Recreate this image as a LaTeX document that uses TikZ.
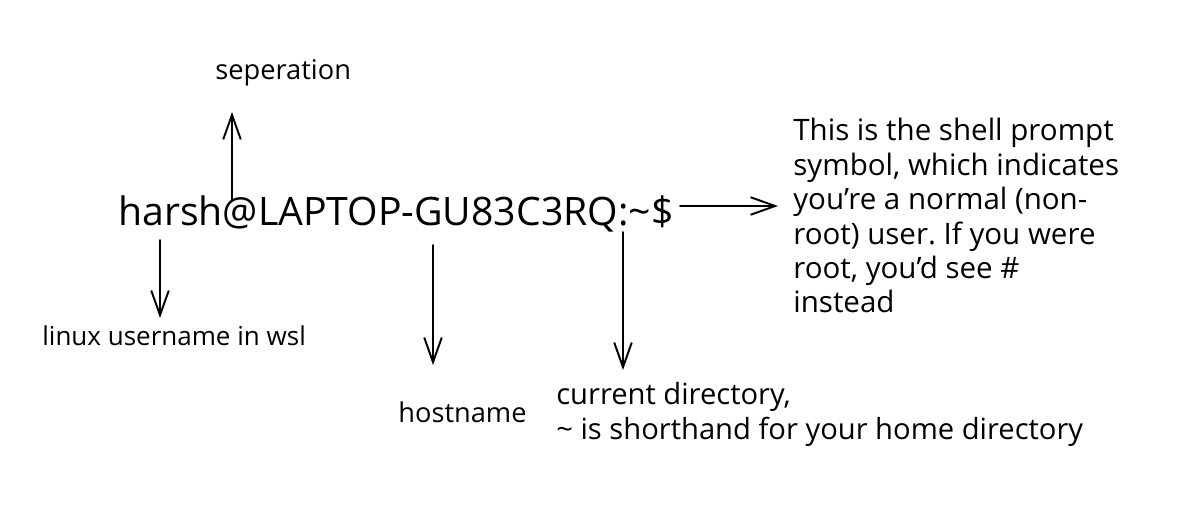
\documentclass[tikz,border=0pt]{standalone}
\usepackage{fontspec}
\setmainfont{Open Sans}
\usetikzlibrary{arrows.meta,positioning}
\frenchspacing

\begin{document}
\begin{tikzpicture}[x=0.02cm,y=-0.02cm,
  note/.style={font=\fontsize{15.5}{19.6}\selectfont,inner sep=0pt,align=left},
  arr/.style={-{Straight Barb[length=14pt,width=10pt,line width=1.1pt]},line width=1.1pt,line cap=round}]
\useasboundingbox (0,0) rectangle (1201,513);

\node[inner sep=0pt,anchor=base west,font=\fontsize{22.3}{26}\selectfont] (prompt) at (118,226) {harsh@LAPTOP-GU83C3RQ:\textasciitilde\$};

\node[note,anchor=base west] (sep) at (215,80) {seperation};
\node[note,anchor=base west,font=\fontsize{14.8}{19.6}\selectfont] (user) at (42,346) {linux username in wsl};
\node[note,anchor=base west] (host) at (398,422) {hostname};
\node[note,anchor=north west,font=\fontsize{16.6}{19.8}\selectfont] (cwd) at (556,382) {current directory,\\\textasciitilde{} is shorthand for your home directory};
\node[note,anchor=north west,font=\fontsize{16.8}{19.6}\selectfont] (dollar) at (793,118) {This is the shell prompt\\symbol, which indicates\\you're a normal (non-\\root) user. If you were\\root, you'd see \#\\instead};

\coordinate (atFoot) at (232,200);
\coordinate (atTip) at (232,112);
\coordinate (userFoot) at (160,240);
\coordinate (userTip) at (160,318);
\coordinate (hostFoot) at (433,245);
\coordinate (hostTip) at (433,365);
\coordinate (cwdFoot) at (623,232);
\coordinate (cwdTip) at (623,370);
\coordinate (dollarFoot) at (680,206);
\coordinate (dollarTip) at (778,206);

\draw[arr] (atFoot) -- (atTip);
\draw[arr] (userFoot) -- (userTip);
\draw[arr] (hostFoot) -- (hostTip);
\draw[arr] (cwdFoot) -- (cwdTip);
\draw[arr] (dollarFoot) -- (dollarTip);
\end{tikzpicture}
\end{document}
